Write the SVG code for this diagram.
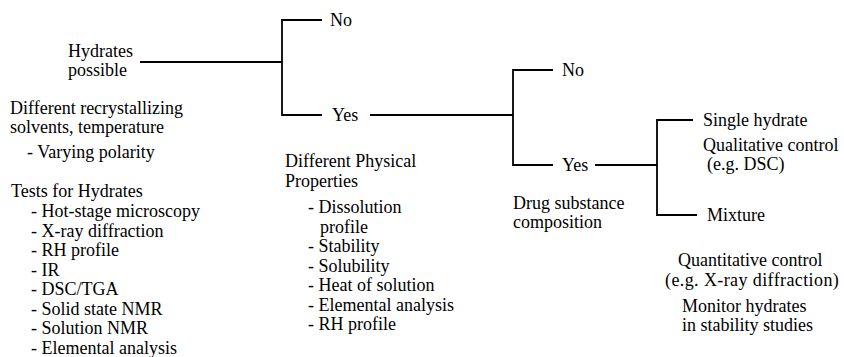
<svg xmlns="http://www.w3.org/2000/svg" width="844" height="357" viewBox="0 0 844 357">
<style>
text { font-family: 'Liberation Serif', 'DejaVu Serif', serif; font-size: 18px; fill: #000; }
.ln { stroke: #000; stroke-width: 1.8; fill: none; stroke-linecap: butt; stroke-linejoin: miter; }
</style>
<rect width="844" height="357" fill="#fff"/>
<g id="connectors">
  <path class="ln" d="M140,62 H282"/>
  <path class="ln" d="M322,20 H282 V115 H322"/>
  <path class="ln" d="M370,115 H513"/>
  <path class="ln" d="M553,70 H513 V165 H553"/>
  <path class="ln" d="M595,165 H657"/>
  <path class="ln" d="M693,120 H657 V215 H697"/>
</g>
<g id="hydrates-possible">
  <text x="68" y="57">Hydrates</text>
  <text x="68" y="76">possible</text>
</g>
<g id="recrystallizing">
  <text x="10" y="114">Different recrystallizing</text>
  <text x="10" y="133">solvents, temperature</text>
  <text x="27" y="158">- Varying polarity</text>
</g>
<g id="tests">
  <text x="11" y="197">Tests for Hydrates</text>
  <text x="31" y="217">- Hot-stage microscopy</text>
  <text x="31" y="236.5">- X-ray diffraction</text>
  <text x="31" y="256">- RH profile</text>
  <text x="31" y="275.5">- IR</text>
  <text x="31" y="295">- DSC/TGA</text>
  <text x="31" y="314.5">- Solid state NMR</text>
  <text x="31" y="334">- Solution NMR</text>
  <text x="31" y="353.5">- Elemental analysis</text>
</g>
<g id="no-1"><text x="330" y="26">No</text></g>
<g id="yes-1"><text x="332" y="121">Yes</text></g>
<g id="physical-properties">
  <text x="285" y="167">Different Physical</text>
  <text x="285" y="187">Properties</text>
  <text x="308" y="213">- Dissolution</text>
  <text x="320" y="232.5">profile</text>
  <text x="308" y="252">- Stability</text>
  <text x="308" y="271.5">- Solubility</text>
  <text x="308" y="291">- Heat of solution</text>
  <text x="308" y="310.5">- Elemental analysis</text>
  <text x="308" y="330">- RH profile</text>
</g>
<g id="no-2"><text x="562" y="76">No</text></g>
<g id="yes-2"><text x="562" y="171">Yes</text></g>
<g id="drug-substance">
  <text x="513" y="209">Drug substance</text>
  <text x="513" y="228">composition</text>
</g>
<g id="single-hydrate"><text x="703" y="126">Single hydrate</text></g>
<g id="qualitative">
  <text x="703" y="151">Qualitative control</text>
  <text x="707" y="170">(e.g. DSC)</text>
</g>
<g id="mixture"><text x="707" y="221">Mixture</text></g>
<g id="quantitative">
  <text x="678" y="266">Quantitative control</text>
  <text x="665" y="286" letter-spacing="0.4">(e.g. X-ray diffraction)</text>
</g>
<g id="monitor">
  <text x="682" y="312">Monitor hydrates</text>
  <text x="682" y="331">in stability studies</text>
</g>
</svg>
